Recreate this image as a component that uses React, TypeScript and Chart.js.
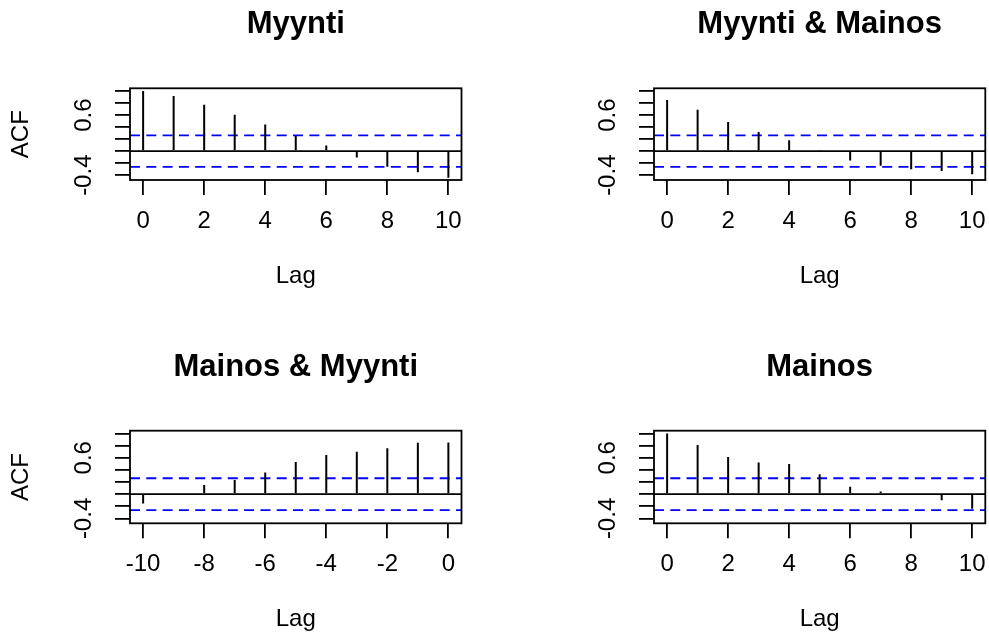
import React, { useEffect, useRef } from "react";
import { Chart, registerables } from "chart.js";

Chart.register(...registerables);

const FONT = '"Liberation Sans", Arial, Helvetica, sans-serif';

// Lags shown on each panel
const LAGS_POS = [0, 1, 2, 3, 4, 5, 6, 7, 8, 9, 10];
const LAGS_NEG = [-10, -9, -8, -7, -6, -5, -4, -3, -2, -1, 0];

// Auto- and cross-correlations
const MYYNTI_ACF = [1.0, 0.916, 0.773, 0.607, 0.442, 0.253, 0.094, -0.104, -0.26, -0.353, -0.442];
const MYYNTI_MAINOS_CCF = [0.85, 0.69, 0.485, 0.32, 0.182, 0.005, -0.155, -0.245, -0.3, -0.33, -0.386];
const MAINOS_MYYNTI_CCF = [-0.155, -0.008, 0.152, 0.235, 0.355, 0.528, 0.645, 0.7, 0.755, 0.845, 0.85];
const MAINOS_ACF = [1.0, 0.81, 0.61, 0.52, 0.495, 0.328, 0.12, 0.045, -0.005, -0.1, -0.24];

// Approximate 95% confidence bound (±1.96/sqrt(n))
const CLIM = 0.262;

// Axis ticks and labels
const X_TICKS_POS = [0, 2, 4, 6, 8, 10];
const X_TICKS_NEG = [-10, -8, -6, -4, -2, 0];
const Y_TICKS = [-0.4, -0.2, 0, 0.2, 0.4, 0.6, 0.8, 1.0];
const Y_LABELED = [-0.4, 0.6];

const TITLES = ["Myynti", "Myynti & Mainos", "Mainos & Myynti", "Mainos"];
const X_LABEL = "Lag";
const Y_LABEL = "ACF";

// Axis limits
const Y_MIN = -0.48;
const Y_MAX = 1.045;
const X_PAD = 0.43;

// Page geometry of the 2x2 grid
const COLS = [
  { left: 0, width: 494, plotLeft: 130, plotRight: 461.5 },
  { left: 494, width: 495, plotLeft: 654, plotRight: 985.3 },
];
const ROWS = [
  { top: 0, height: 320, plotTop: 88.3, plotBottom: 180, titleY: 24.8 },
  { top: 320, height: 317, plotTop: 430.7, plotBottom: 523.3, titleY: 367.2 },
];
const X_SCALE_H = 112;
const TICK_LEN = 15;
const LINE_W = 1.8;
const TITLE_SIZE = 31;

type PanelCfg = {
  title: string;
  lags: number[];
  values: number[];
  xTicks: number[];
  row: number;
  col: number;
};

const PANELS: PanelCfg[] = [
  { title: TITLES[0], lags: LAGS_POS, values: MYYNTI_ACF, xTicks: X_TICKS_POS, row: 0, col: 0 },
  { title: TITLES[1], lags: LAGS_POS, values: MYYNTI_MAINOS_CCF, xTicks: X_TICKS_POS, row: 0, col: 1 },
  { title: TITLES[2], lags: LAGS_NEG, values: MAINOS_MYYNTI_CCF, xTicks: X_TICKS_NEG, row: 1, col: 0 },
  { title: TITLES[3], lags: LAGS_POS, values: MAINOS_ACF, xTicks: X_TICKS_POS, row: 1, col: 1 },
];

function framePlugin(title: string, titleY: number) {
  return {
    id: "frameAndTitle",
    afterDraw(chart: any) {
      const { ctx, chartArea } = chart;
      ctx.save();
      ctx.strokeStyle = "#000";
      ctx.lineWidth = LINE_W;
      ctx.strokeRect(
        chartArea.left,
        chartArea.top,
        chartArea.right - chartArea.left,
        chartArea.bottom - chartArea.top
      );
      ctx.fillStyle = "#000";
      ctx.font = `bold ${TITLE_SIZE}px ${FONT}`;
      ctx.textAlign = "center";
      ctx.textBaseline = "middle";
      ctx.fillText(title, (chartArea.left + chartArea.right) / 2, titleY);
      ctx.restore();
    },
  };
}

function Panel({ cfg }: { cfg: PanelCfg }) {
  const ref = useRef<HTMLCanvasElement>(null);
  const col = COLS[cfg.col];
  const row = ROWS[cfg.row];

  useEffect(() => {
    const xMin = cfg.lags[0] - X_PAD;
    const xMax = cfg.lags[cfg.lags.length - 1] + X_PAD;
    const plotLeft = col.plotLeft - col.left;
    const plotRight = col.plotRight - col.left;
    const plotTop = row.plotTop - row.top;
    const plotBottom = row.plotBottom - row.top;
    const showYTitle = cfg.col === 0;

    const gridOpts = {
      display: true,
      drawOnChartArea: false,
      drawTicks: true,
      tickLength: TICK_LEN,
      color: "#000",
      lineWidth: LINE_W,
      offset: false,
    };

    const chart = new Chart(ref.current as HTMLCanvasElement, {
      type: "bar",
      data: {
        datasets: [
          {
            type: "bar",
            data: cfg.lags.map((x, i) => ({ x, y: cfg.values[i] })),
            backgroundColor: "#000",
            borderWidth: 0,
            barThickness: 2,
            inflateAmount: 0,
          } as any,
          {
            type: "line",
            data: [
              { x: xMin, y: 0 },
              { x: xMax, y: 0 },
            ],
            borderColor: "#000",
            borderWidth: LINE_W,
            pointRadius: 0,
          } as any,
          {
            type: "line",
            data: [
              { x: xMin, y: CLIM },
              { x: xMax, y: CLIM },
            ],
            borderColor: "#0000ff",
            borderWidth: LINE_W,
            borderDash: [10, 6.3],
            pointRadius: 0,
          } as any,
          {
            type: "line",
            data: [
              { x: xMin, y: -CLIM },
              { x: xMax, y: -CLIM },
            ],
            borderColor: "#0000ff",
            borderWidth: LINE_W,
            borderDash: [10, 6.3],
            pointRadius: 0,
          } as any,
        ],
      },
      options: {
        animation: false,
        responsive: false,
        events: [],
        layout: {
          padding: {
            left: 0,
            right: col.width - plotRight,
            top: plotTop,
            bottom: row.height - plotBottom - X_SCALE_H,
          },
        },
        plugins: {
          legend: { display: false },
          tooltip: { enabled: false },
          title: { display: false },
        },
        scales: {
          x: {
            type: "linear",
            position: "bottom",
            min: xMin,
            max: xMax,
            offset: false,
            grid: gridOpts,
            border: { display: false },
            afterBuildTicks: (s: any) => {
              s.ticks = cfg.xTicks.map((v) => ({ value: v }));
            },
            afterFit: (s: any) => {
              s.height = X_SCALE_H;
              s.paddingLeft = 0;
              s.paddingRight = 0;
            },
            ticks: {
              autoSkip: false,
              minRotation: 0,
              maxRotation: 0,
              padding: 11.8,
              color: "#000",
              font: { family: FONT, size: 24 },
              callback: (v: any) => String(v),
            },
            title: {
              display: true,
              text: X_LABEL,
              color: "#000",
              font: { family: FONT, size: 24 },
              padding: { top: 0, bottom: 1.6 },
            },
          },
          y: {
            type: "linear",
            position: "left",
            min: Y_MIN,
            max: Y_MAX,
            grid: gridOpts,
            border: { display: false },
            afterBuildTicks: (s: any) => {
              s.ticks = Y_TICKS.map((v) => ({ value: v }));
            },
            afterFit: (s: any) => {
              s.width = plotLeft;
              s.paddingTop = 0;
              s.paddingBottom = 0;
            },
            ticks: {
              autoSkip: false,
              minRotation: 90,
              maxRotation: 90,
              crossAlign: "center",
              padding: 10,
              color: "#000",
              font: { family: FONT, size: 24 },
              callback: (v: any) =>
                Y_LABELED.some((l) => Math.abs(l - Number(v)) < 1e-9)
                  ? Number(v).toFixed(1)
                  : "",
            },
            title: {
              display: showYTitle,
              text: Y_LABEL,
              color: "#000",
              font: { family: FONT, size: 24 },
              padding: { top: 7.3, bottom: 0 },
            },
          },
        },
      } as any,
      plugins: [framePlugin(cfg.title, row.titleY - row.top)],
    });
    return () => chart.destroy();
  }, []);

  return (
    <canvas
      ref={ref}
      width={col.width}
      height={row.height}
      style={{
        position: "absolute",
        left: col.left,
        top: row.top,
        width: col.width,
        height: row.height,
      }}
    />
  );
}

export default function App() {
  return (
    <div
      style={{
        position: "absolute",
        left: 0,
        top: 0,
        width: 989,
        height: 637,
        background: "#fff",
        overflow: "hidden",
      }}
    >
      {PANELS.map((p, i) => (
        <Panel key={i} cfg={p} />
      ))}
    </div>
  );
}
